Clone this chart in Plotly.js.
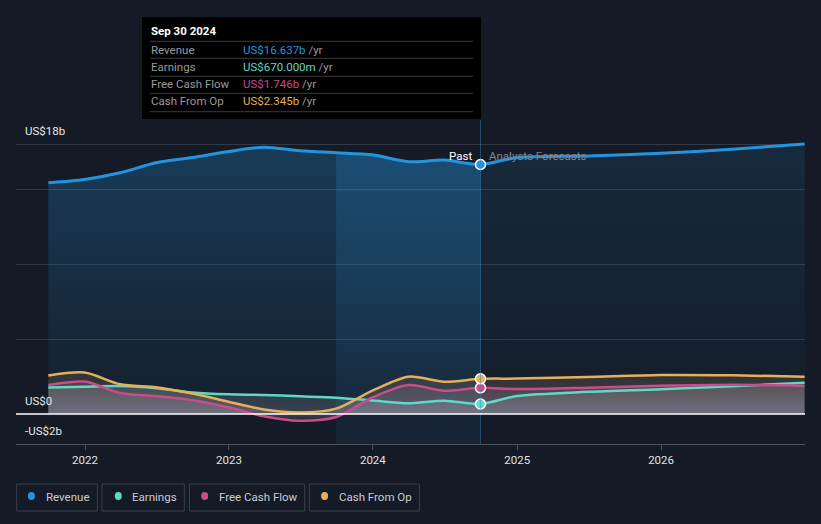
<!DOCTYPE html>
<html><head><meta charset="utf-8">
<script src="https://cdn.plot.ly/plotly-3.0.1.min.js"></script>
<style>html,body{margin:0;padding:0;background:#151b26;}#chart{width:821px;height:524px;}</style>
</head><body><div id="chart"></div><script>
// ---- data (US$ billions) ----
const pastDates = ['2021-09-30','2021-12-31','2022-03-31','2022-06-30','2022-09-30','2022-12-31','2023-03-31','2023-06-30','2023-09-30','2023-12-31','2024-03-31','2024-06-30','2024-09-30'];
const revenuePast  = [15.42,15.64,16.08,16.75,17.10,17.50,17.78,17.55,17.42,17.28,16.82,16.93,16.637];
const earningsPast = [1.76,1.82,1.86,1.72,1.43,1.31,1.27,1.18,1.09,0.90,0.72,0.89,0.67];
const fcfPast      = [1.93,2.16,1.40,1.20,0.92,0.45,-0.15,-0.45,-0.20,1.10,1.93,1.55,1.746];
const cfoPast      = [2.56,2.76,1.98,1.78,1.36,0.82,0.30,0.10,0.36,1.56,2.49,2.15,2.345];

const forecastDates = ['2024-09-30','2024-12-31','2025-06-30','2025-12-31','2026-06-30','2026-12-31'];
const revenueFc  = [16.637,17.09,17.20,17.38,17.65,18.00];
const earningsFc = [0.67,1.20,1.48,1.65,1.85,2.09];
const fcfFc      = [1.746,1.66,1.75,1.88,1.95,1.87];
const cfoFc      = [2.345,2.36,2.47,2.60,2.58,2.49];

const seriesNames = ['Revenue','Earnings','Free Cash Flow','Cash From Op'];
const tipValues = ['US$16.637b','US$670.000m','US$1.746b','US$2.345b'];
const tipDate = 'Sep 30 2024';
const bandStart = '2023-09-30';
const nowDate = '2024-09-30';
const xTickVals = ['2022-01-01','2023-01-01','2024-01-01','2025-01-01','2026-01-01'];
const xTickText = ['2022','2023','2024','2025','2026'];
const yTickVals = [5,10,15,18];
const yLabels = [{v:18,t:'US$18b'},{v:0,t:'US$0'},{v:-2,t:'-US$2b'}];

// ---- styling ----
const colors = ['#2394df','#5fd9c6','#c94d8c','#e6b05a'];
const rgb = ['35,148,223','95,217,198','201,77,140','230,176,90'];
const BG = '#151b26';
const FONT = 'Roboto, "Open Sans", sans-serif';

const allDates = pastDates.concat(forecastDates.slice(1));
const full = [
  revenuePast.concat(revenueFc.slice(1)),
  earningsPast.concat(earningsFc.slice(1)),
  fcfPast.concat(fcfFc.slice(1)),
  cfoPast.concat(cfoFc.slice(1))
];

// pixel helpers for decorations (plot area 16..805 x, 120..444 y)
const L=16, R=805, T=120, B=444;
const PX = x => (x-L)/(R-L);
const PY = y => (B-y)/(B-T);

const traces = [];
const spl = {shape:'spline', smoothing:0.8, width:0};
// revenue fills
traces.push({x:pastDates, y:revenuePast, type:'scatter', mode:'lines', line:spl, fill:'tozeroy',
  fillgradient:{type:'vertical', start:0, stop:18, colorscale:[[0,'rgba(35,148,223,0.03)'],[1,'rgba(35,148,223,0.27)']]}, hoverinfo:'skip'});
traces.push({x:forecastDates, y:revenueFc, type:'scatter', mode:'lines', line:spl, fill:'tozeroy',
  fillgradient:{type:'vertical', start:0, stop:18, colorscale:[[0,'rgba(35,148,223,0.02)'],[1,'rgba(35,148,223,0.12)']]}, hoverinfo:'skip'});
const bi = pastDates.indexOf(bandStart);
traces.push({x:pastDates.slice(bi), y:revenuePast.slice(bi), type:'scatter', mode:'lines', line:spl, fill:'tozeroy',
  fillgradient:{type:'vertical', start:0, stop:18, colorscale:[[0,'rgba(35,148,223,0.08)'],[1,'rgba(35,148,223,0.22)']]}, hoverinfo:'skip'});
// minor fills
for (let i=1;i<4;i++){
  traces.push({x:allDates, y:full[i], type:'scatter', mode:'lines', line:spl, fill:'tozeroy',
    fillgradient:{type:'vertical', start:-0.6, stop:3, colorscale:[[0,'rgba('+rgb[i]+',0.06)'],[0.15,'rgba(195,185,205,0.22)'],[1,'rgba('+rgb[i]+',0.12)']]}, hoverinfo:'skip'});
}
// lines
for (let i=0;i<4;i++){
  traces.push({x:allDates, y:full[i], type:'scatter', mode:'lines',
    line:{color:colors[i], width:i===0?3:2.5, shape:'spline', smoothing:0.8}, hoverinfo:'skip'});
}
// markers at the current point
traces.push({x:[nowDate,nowDate,nowDate,nowDate],
  y:[revenuePast[revenuePast.length-1],earningsPast[earningsPast.length-1],fcfPast[fcfPast.length-1],cfoPast[cfoPast.length-1]],
  type:'scatter', mode:'markers', marker:{color:colors, size:10, line:{color:'#ffffff', width:1.5}}, hoverinfo:'skip'});

const shapes = [];
const annotations = [];
// band below zero
shapes.push({type:'rect', xref:'x', yref:'y', x0:bandStart, x1:nowDate, y0:-2, y1:0, fillcolor:'rgba(35,148,223,0.08)', line:{width:0}, layer:'below'});
// vertical current line
shapes.push({type:'line', xref:'x', yref:'paper', x0:nowDate, x1:nowDate, y0:0, y1:1, line:{color:'rgba(60,130,190,0.45)', width:1}, layer:'above'});
// zero line
shapes.push({type:'line', xref:'paper', yref:'y', x0:0, x1:1, y0:0, y1:0, line:{color:'#ffffff', width:1.5}, layer:'above'});
// y labels
yLabels.forEach(l=>annotations.push({xref:'paper', yref:'y', x:0, y:l.v, xanchor:'left', yanchor:'bottom', xshift:7, yshift:4,
  text:l.t, showarrow:false, font:{family:FONT, size:11.5, color:'#e4e6ea'}}));
// Past / Analysts Forecasts
annotations.push({xref:'x', yref:'y', x:nowDate, y:17.2, xanchor:'right', xshift:-6, text:'Past', showarrow:false, font:{family:FONT, size:11.5, color:'#ffffff'}});
annotations.push({xref:'x', yref:'y', x:nowDate, y:17.2, xanchor:'left', xshift:7, text:'Analysts Forecasts', showarrow:false, font:{family:FONT, size:11.5, color:'#7f858f'}});

// tooltip
shapes.push({type:'rect', xref:'paper', yref:'paper', x0:PX(142), x1:PX(481), y0:PY(119), y1:PY(17), fillcolor:'#000000', line:{width:0}, layer:'above'});
[41.3,58.3,76.3,93.3,111.7].forEach(y=>shapes.push({type:'line', xref:'paper', yref:'paper', x0:PX(150), x1:PX(473), y0:PY(y), y1:PY(y), line:{color:'#3a3a3a', width:1}, layer:'above'}));
annotations.push({xref:'paper', yref:'paper', x:PX(149), y:PY(31), xanchor:'left', yanchor:'middle', text:'<b>'+tipDate+'</b>', showarrow:false, font:{family:FONT, size:11.5, color:'#ffffff'}});
const rowY = [49.5,66.8,84.3,101.3];
for (let i=0;i<4;i++){
  annotations.push({xref:'paper', yref:'paper', x:PX(149), y:PY(rowY[i]), xanchor:'left', yanchor:'middle', text:seriesNames[i], showarrow:false, font:{family:FONT, size:11.5, color:'#9a9a9a'}});
  annotations.push({xref:'paper', yref:'paper', x:PX(241), y:PY(rowY[i]), xanchor:'left', yanchor:'middle',
    text:'<span style="color:'+colors[i]+'">'+tipValues[i]+'</span> /yr', showarrow:false, font:{family:FONT, size:11.5, color:'#9a9a9a'}});
}
// legend boxes
const lg = [[16.7,97.4,31.4,44],[102,184.3,118.3,130],[189.5,304.7,204.7,216.8],[309.4,419.4,324.6,337]];
for (let i=0;i<4;i++){
  const b = lg[i];
  shapes.push({type:'rect', xref:'paper', yref:'paper', x0:PX(b[0]), x1:PX(b[1]), y0:PY(511), y1:PY(484), line:{color:'#3a3f49', width:1}, fillcolor:'rgba(0,0,0,0)'});
  shapes.push({type:'circle', xref:'paper', yref:'paper', x0:PX(b[2]-3.5), x1:PX(b[2]+3.5), y0:PY(496+4), y1:PY(496-4), fillcolor:colors[i], line:{width:0}});
  annotations.push({xref:'paper', yref:'paper', x:PX(b[3]), y:PY(496.5), xanchor:'left', yanchor:'middle', text:seriesNames[i], showarrow:false, font:{family:FONT, size:11.5, color:'#c9cbd0'}});
}

const layout = {
  width:821, height:524,
  paper_bgcolor:BG, plot_bgcolor:BG,
  margin:{l:L, r:821-R, t:T, b:524-B},
  showlegend:false, hovermode:false,
  font:{family:FONT, color:'#d8dade'},
  xaxis:{type:'date', range:['2021-07-10','2027-01-01'], tickmode:'array', tickvals:xTickVals, ticktext:xTickText,
    showgrid:false, zeroline:false, showline:true, linecolor:'#4c525c', linewidth:1,
    ticks:'outside', ticklen:5, tickcolor:'#4c525c', tickfont:{family:FONT, size:11.5, color:'#e0e2e6'}, fixedrange:true},
  yaxis:{range:[-2,19.6], tickmode:'array', tickvals:yTickVals, showticklabels:false, showgrid:true,
    gridcolor:'#323944', gridwidth:1, zeroline:false, showline:false, fixedrange:true},
  shapes:shapes, annotations:annotations
};
Plotly.newPlot('chart', traces, layout, {staticPlot:true, displayModeBar:false});
</script></body></html>
